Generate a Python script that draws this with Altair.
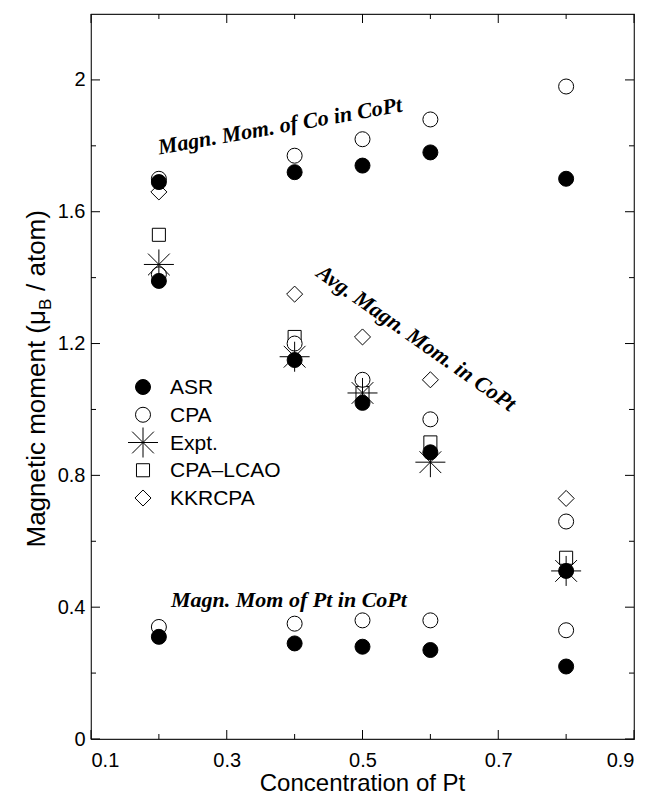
import altair as alt
import pandas as pd

# ---- data ----
conc = [0.2, 0.4, 0.5, 0.6, 0.8]

asr_co = [1.69, 1.72, 1.74, 1.78, 1.70]
cpa_co = [1.70, 1.77, 1.82, 1.88, 1.98]
kkr_co_x = [0.2]
kkr_co = [1.66]

asr_pt = [0.31, 0.29, 0.28, 0.27, 0.22]
cpa_pt = [0.34, 0.35, 0.36, 0.36, 0.33]

asr_avg = [1.39, 1.15, 1.02, 0.87, 0.51]
cpa_avg = [1.41, 1.20, 1.09, 0.97, 0.66]
expt_avg = [1.44, 1.16, 1.05, 0.84, 0.51]
lcao_avg = [1.53, 1.22, 1.05, 0.90, 0.55]
kkr_avg_x = [0.4, 0.5, 0.6, 0.8]
kkr_avg = [1.35, 1.22, 1.09, 0.73]

series_order = ["ASR", "CPA", "Expt.", "CPA\u2013LCAO", "KKRCPA"]

x_major = [0.1, 0.3, 0.5, 0.7, 0.9]
x_minor = [0.2, 0.4, 0.6, 0.8]
y_major = [0, 0.4, 0.8, 1.2, 1.6, 2.0]
y_minor = [0.2, 0.6, 1.0, 1.4, 1.8]

# ---- table ----
rows = []
def add(name, xs, ys):
    for a, b in zip(xs, ys):
        rows.append({"x": a, "y": b, "series": name})

# drawing order: open shapes first, filled and star last
add("KKRCPA", kkr_co_x, kkr_co)
add("KKRCPA", kkr_avg_x, kkr_avg)
add("CPA\u2013LCAO", conc, lcao_avg)
add("CPA", conc, cpa_co)
add("CPA", conc, cpa_pt)
add("CPA", conc, cpa_avg)
add("ASR", conc, asr_co)
add("ASR", conc, asr_pt)
add("ASR", conc, asr_avg)
add("Expt.", conc, expt_avg)
df = pd.DataFrame(rows)

W, H = 543, 725
SANS = "Liberation Sans"
SERIF = "Liberation Serif"

xscale = alt.Scale(domain=[0.1, 0.9], nice=False, zero=False)
yscale = alt.Scale(domain=[0, 2.2], nice=False, zero=False)
xaxis = alt.Axis(values=x_major, format="~g", ticks=False, domain=False, grid=False,
                 labelFontSize=20, labelFont=SANS, labelColor="black", labelPadding=11,
                 title=None)
yaxis = alt.Axis(values=y_major, format="~g", ticks=False, domain=False, grid=False,
                 labelFontSize=20, labelFont=SANS, labelColor="black", labelPadding=6,
                 title=None)

def X(field="x"):
    return alt.X(f"{field}:Q", scale=xscale, axis=xaxis, title=None)

def Y(field="y"):
    return alt.Y(f"{field}:Q", scale=yscale, axis=yaxis, title=None)

# symbol shapes (all drawn at one common size; the paths carry their relative scale)
star = "M-2,0L2,0M0,-2L0,2M-1.45,-1.45L1.45,1.45M-1.45,1.45L1.45,-1.45"
square = "M-0.87,-0.87L0.87,-0.87L0.87,0.87L-0.87,0.87Z"
diamond = "M0,-1.07L1.07,0L0,1.07L-1.07,0Z"
shape_range = ["circle", "circle", star, square, diamond]
fill_range = ["black", "white", "transparent", "white", "white"]

points = alt.Chart(df).mark_point(filled=True, opacity=1, strokeWidth=1, size=225,
                                  stroke="black").encode(
    x=X(), y=Y(),
    shape=alt.Shape("series:N", scale=alt.Scale(domain=series_order, range=shape_range),
                    legend=None),
    fill=alt.Fill("series:N", scale=alt.Scale(domain=series_order, range=fill_range),
                  legend=None),
)

# ---- legend (drawn by hand inside the plot) ----
one = pd.DataFrame({"a": [0]})
LEG_SYM_X = 52
LEG_TXT_X = 79
LEG_Y0 = 373
LEG_DY = 27.75
legend_layers = []
for i, name in enumerate(series_order):
    yy = LEG_Y0 + i * LEG_DY
    legend_layers.append(
        alt.Chart(one).mark_point(filled=True, opacity=1, strokeWidth=1, size=225,
                                  stroke="black", shape=shape_range[i],
                                  fill=fill_range[i]).encode(
            x=alt.value(LEG_SYM_X), y=alt.value(yy)))
    legend_layers.append(
        alt.Chart(one).mark_text(text=name, font=SANS, fontSize=21, align="left",
                                 baseline="middle", color="black").encode(
            x=alt.value(LEG_TXT_X), y=alt.value(yy + 1)))

# ---- inward ticks on all four sides ----
def xticks(vals, length):
    d = pd.DataFrame({"x": vals})
    bottom = alt.Chart(d).mark_rule(color="black").encode(
        x=X(), y=alt.value(H), y2=alt.value(H - length))
    top = alt.Chart(d).mark_rule(color="black").encode(
        x=X(), y=alt.value(0), y2=alt.value(length))
    return [bottom, top]

def yticks(vals, length):
    d = pd.DataFrame({"y": vals})
    left = alt.Chart(d).mark_rule(color="black").encode(
        y=Y(), x=alt.value(0), x2=alt.value(length))
    right = alt.Chart(d).mark_rule(color="black").encode(
        y=Y(), x=alt.value(W), x2=alt.value(W - length))
    return [left, right]

ticks = xticks(x_major, 9) + xticks(x_minor, 5) + yticks(y_major, 9) + yticks(y_minor, 5)

# ---- annotations ----
def note(text, xv, yv, angle, align="center"):
    return alt.Chart(one).mark_text(text=text, font=SERIF, fontStyle="italic",
                                    fontWeight="bold", fontSize=22, angle=angle,
                                    align=align, baseline="alphabetic", color="black").encode(
        x=alt.datum(xv, scale=xscale), y=alt.datum(yv, scale=yscale))

notes = [
    note("Magn. Mom. of Co in CoPt", 0.380, 1.839, 350),
    note("Avg. Magn. Mom. in CoPt", 0.5735, 1.199, 35),
    note("Magn. Mom of Pt in CoPt", 0.3916, 0.4006, 0),
]

# ---- axis titles ----
xtitle = alt.Chart(one).mark_text(text="Concentration of Pt", font=SANS, fontSize=24,
                                  align="center", baseline="alphabetic", color="black").encode(
    x=alt.value(W / 2), y=alt.value(H + 52))

YT_X = -46
YT_FS = 26
PA = 296
ytA = alt.Chart(one).mark_text(text="Magnetic moment (\u03bc", font=SANS, fontSize=YT_FS, angle=270,
                               align="right", baseline="alphabetic", color="black").encode(
    x=alt.value(YT_X), y=alt.value(PA))
ytB = alt.Chart(one).mark_text(text="B", font=SANS, fontSize=17, angle=270,
                               align="left", baseline="alphabetic", color="black").encode(
    x=alt.value(YT_X + 6), y=alt.value(PA))
ytC = alt.Chart(one).mark_text(text="/ atom)", font=SANS, fontSize=YT_FS, angle=270,
                               align="left", baseline="alphabetic", color="black").encode(
    x=alt.value(YT_X), y=alt.value(PA - 19))

chart = alt.layer(*ticks, points, *legend_layers, *notes, xtitle, ytA, ytB, ytC).properties(
    width=W, height=H,
    autosize=alt.AutoSizeParams(type="none"),
    padding={"left": 91, "top": 14, "right": 16, "bottom": 58},
    background="white",
).configure_view(stroke="#222", strokeWidth=1.2)

chart.save("out.html", embed_options={"renderer": "svg", "actions": False})
